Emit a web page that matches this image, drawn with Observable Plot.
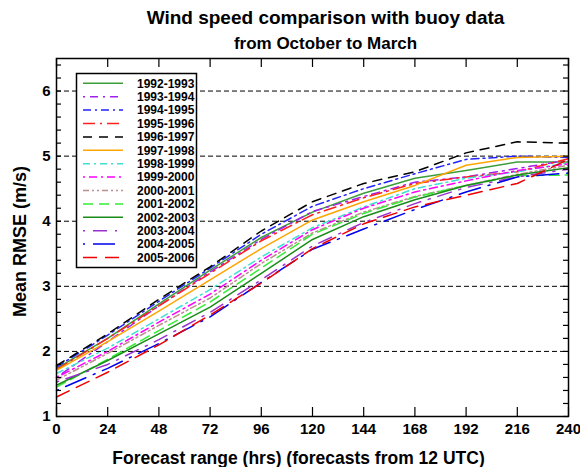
<!DOCTYPE html>
<html><head><meta charset="utf-8">
<script src="https://cdn.jsdelivr.net/npm/d3@7"></script>
<script src="https://cdn.jsdelivr.net/npm/@observablehq/plot@0.6"></script>
<style>
html,body{margin:0;padding:0;background:#fff;}
#chart{width:580px;height:467px;}
</style>
</head><body><div id="chart"></div>
<script>
const hours = [0, 24, 48, 72, 96, 120, 144, 168, 192, 216, 240];
const seasons = ["1992-1993","1993-1994","1994-1995","1995-1996","1996-1997","1997-1998","1998-1999","1999-2000","2000-2001","2001-2002","2002-2003","2003-2004","2004-2005","2005-2006"];
const rmse1992 = [1.74, 2.20, 2.73, 3.25, 3.75, 4.14, 4.43, 4.66, 4.78, 4.91, 4.91];
const rmse1993 = [1.60, 2.15, 2.70, 3.22, 3.72, 4.15, 4.38, 4.60, 4.68, 4.81, 4.94];
const rmse1994 = [1.76, 2.25, 2.77, 3.28, 3.80, 4.23, 4.50, 4.73, 4.95, 5.00, 4.98];
const rmse1995 = [1.72, 2.20, 2.70, 3.20, 3.70, 4.10, 4.36, 4.58, 4.68, 4.76, 4.96];
const rmse1996 = [1.78, 2.27, 2.80, 3.30, 3.85, 4.30, 4.58, 4.76, 5.05, 5.22, 5.20];
const rmse1997 = [1.71, 2.15, 2.62, 3.10, 3.58, 4.02, 4.30, 4.55, 4.86, 4.98, 5.00];
const rmse1998 = [1.66, 2.05, 2.50, 2.95, 3.45, 3.90, 4.22, 4.50, 4.66, 4.76, 4.90];
const rmse1999 = [1.60, 2.00, 2.45, 2.88, 3.40, 3.87, 4.20, 4.45, 4.62, 4.78, 4.88];
const rmse2000 = [1.56, 1.97, 2.40, 2.82, 3.35, 3.82, 4.14, 4.38, 4.55, 4.72, 4.86];
const rmse2001 = [1.45, 1.88, 2.32, 2.76, 3.28, 3.80, 4.12, 4.37, 4.55, 4.70, 4.71];
const rmse2002 = [1.48, 1.86, 2.27, 2.68, 3.20, 3.72, 4.07, 4.33, 4.55, 4.71, 4.82];
const rmse2003 = [1.53, 1.80, 2.18, 2.60, 3.10, 3.62, 3.98, 4.27, 4.52, 4.68, 4.80];
const rmse2004 = [1.40, 1.74, 2.12, 2.53, 3.06, 3.57, 3.88, 4.18, 4.45, 4.68, 4.74];
const rmse2005 = [1.30, 1.68, 2.10, 2.56, 3.05, 3.58, 3.96, 4.22, 4.40, 4.58, 4.95];
const seriesValues = [rmse1992, rmse1993, rmse1994, rmse1995, rmse1996, rmse1997, rmse1998, rmse1999, rmse2000, rmse2001, rmse2002, rmse2003, rmse2004, rmse2005];
const xTicks = [0, 24, 48, 72, 96, 120, 144, 168, 192, 216, 240];
const yTicks = [1, 2, 3, 4, 5, 6];
const yMinorTicks = [1.2,1.4,1.6,1.8,2.2,2.4,2.6,2.8,3.2,3.4,3.6,3.8,4.2,4.4,4.6,4.8,5.2,5.4,5.6,5.8,6.2,6.4];
const gridY = [2, 3, 4, 5, 6];
const titleText = "Wind speed comparison with buoy data";
const subtitleText = "from October to March";
const xLabel = "Forecast range (hrs) (forecasts from 12 UTC)";
const yLabel = "Mean RMSE (m/s)";

const colors = ["#3a9e3a","#a020f0","#2222ff","#ff2020","#000000","#ffa500","#40e0d0","#ff00ff","#bc8f8f","#33ee33","#1a8c1a","#9932cc","#0000ee","#ee0000"];
const dashes = [null,"2,5,8,5","8,4,2,4","12,5,2,5","9,7",null,"7,4,2,4","2,4,8,4","6,3,2,3,2,3","10,6",null,"2,8,14,8","2,8,22,8","14,8"];

const W = 580, H = 467, mL = 56, mR = 12, mT = 58, mB = 51;
const fw = W - mL - mR, fh = H - mT - mB;

const lineMarks = seriesValues.map((vals, i) => {
  const data = hours.map((h, j) => ({h, v: vals[j]}));
  return Plot.line(data, {x: "h", y: "v", stroke: colors[i], strokeWidth: 1.5, strokeDasharray: dashes[i] || undefined});
});

const plot = Plot.plot({
  width: W, height: H,
  marginLeft: mL, marginRight: mR, marginTop: mT, marginBottom: mB,
  x: {domain: [0, 240]},
  y: {domain: [1, 6.5]},
  style: {fontFamily: "'Liberation Sans', Arial, Helvetica, sans-serif", fontWeight: "bold", fontSize: "15px", background: "#fff", color: "#000"},
  marks: [
    Plot.ruleY(gridY, {y: d => d, stroke: "#000", strokeDasharray: "5,3", strokeWidth: 1}),
    ...lineMarks,
    Plot.ruleX(xTicks, {x: d => d, insetTop: fh - 9, stroke: "#000", strokeWidth: 1.2}),
    Plot.ruleX(xTicks, {x: d => d, insetBottom: fh - 9, stroke: "#000", strokeWidth: 1.2}),
    Plot.ruleY(yTicks.concat(yMinorTicks), {y: d => d, insetRight: fw - 5, stroke: "#000", strokeWidth: 1.2}),
    Plot.ruleY(yTicks.concat(yMinorTicks), {y: d => d, insetLeft: fw - 5, stroke: "#000", strokeWidth: 1.2}),
    Plot.frame({stroke: "#000", strokeWidth: 1.5}),
    Plot.axisX({ticks: xTicks, tickSize: 0, tickPadding: 7, label: null, tickFormat: d => String(d)}),
    Plot.axisY({ticks: yTicks, tickSize: 0, tickPadding: 6, label: null, tickFormat: d => String(d)}),
    Plot.text([titleText], {text: d => d, frameAnchor: "top", textAnchor: "middle", dx: 13, dy: -41, fontSize: 19, fontWeight: "bold", lineAnchor: "middle"}),
    Plot.text([subtitleText], {text: d => d, frameAnchor: "top", textAnchor: "middle", dx: 13, dy: -15, fontSize: 17, fontWeight: "bold", lineAnchor: "middle"}),
    Plot.text([xLabel], {text: d => d, frameAnchor: "bottom", textAnchor: "middle", dx: -14, dy: 42, fontSize: 17.5, fontWeight: "bold", lineAnchor: "middle"}),
    Plot.text([yLabel], {text: d => d, frameAnchor: "left", textAnchor: "middle", dx: -36, dy: 4, rotate: -90, fontSize: 18, fontWeight: "bold", lineAnchor: "middle"})
  ]
});
document.getElementById("chart").appendChild(plot);

// Legend
const svg = d3.select(plot);
const lg = svg.append("g").attr("class", "legend");
const lx = 76.5, ly = 73.5, lw = 120, lh = 194, step = 13.4, y0 = 83.3;
lg.append("rect").attr("x", lx).attr("y", ly).attr("width", lw).attr("height", lh)
  .attr("fill", "#fff").attr("stroke", "#000").attr("stroke-width", 1.5);
seasons.forEach((s, i) => {
  const y = y0 + i * step;
  lg.append("line").attr("x1", 83).attr("x2", 123).attr("y1", y).attr("y2", y)
    .attr("stroke", colors[i]).attr("stroke-width", 1.5)
    .attr("stroke-dasharray", dashes[i] || null);
  lg.append("text").attr("x", 137).attr("y", y).attr("dy", "0.35em")
    .attr("text-anchor", "start")
    .attr("font-size", 12).attr("font-weight", "bold").attr("fill", "#000").text(s);
});
</script>
</body></html>
